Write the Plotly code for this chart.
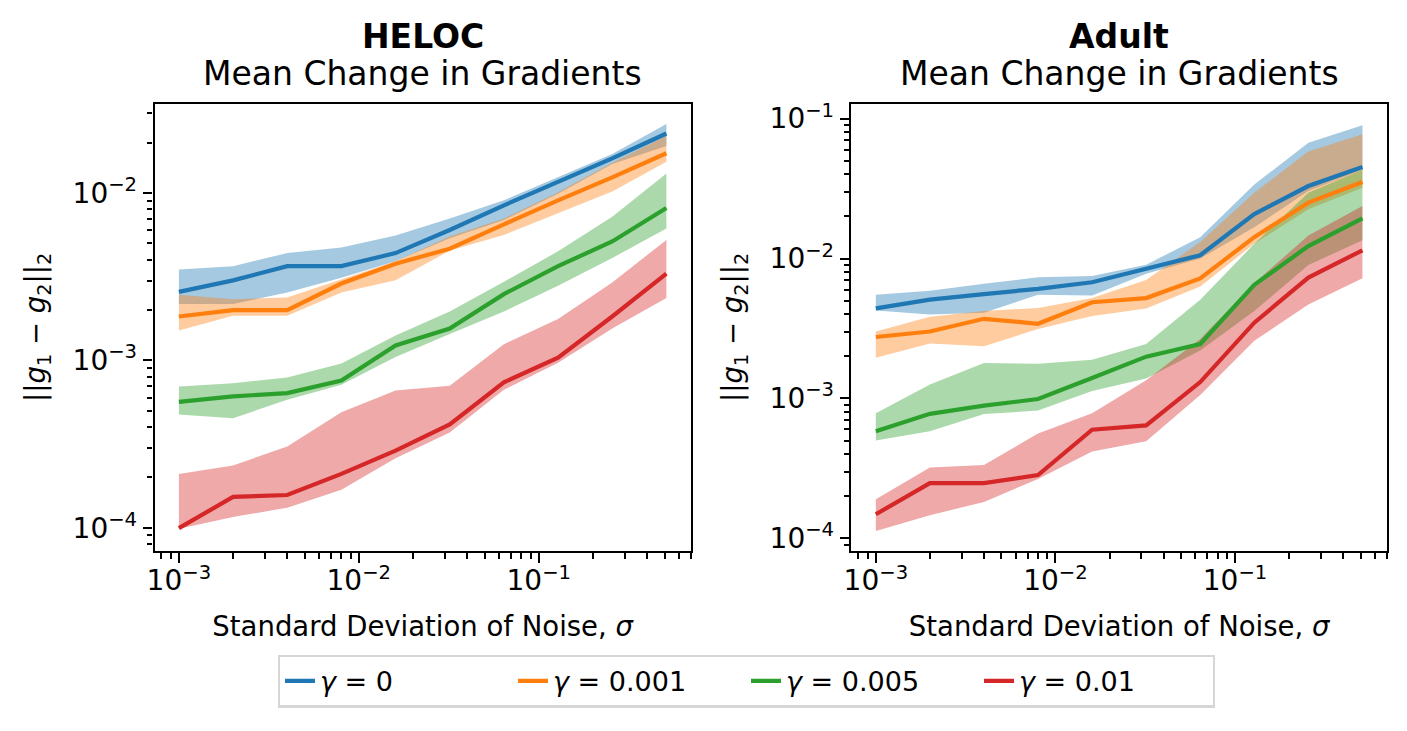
import plotly.graph_objects as go
from plotly.subplots import make_subplots

sigma = [0.001, 0.002, 0.004, 0.008, 0.016, 0.032, 0.064, 0.128, 0.256, 0.512]
gammas = ['0', '0.001', '0.005', '0.01']

# HELOC
heloc_mean = [
    [0.00257, 0.00301, 0.00366, 0.00366, 0.00438, 0.00602, 0.00845, 0.0117, 0.0161, 0.0227],
    [0.00183, 0.00200, 0.00200, 0.00288, 0.00378, 0.00465, 0.00650, 0.00905, 0.0124, 0.0173],
    [0.000565, 0.000610, 0.000638, 0.000759, 0.00123, 0.00155, 0.00249, 0.00366, 0.00514, 0.00815],
    [0.0000995, 0.000153, 0.000157, 0.000210, 0.000289, 0.000415, 0.000741, 0.00104, 0.00183, 0.00330],
]
heloc_upper = [
    [0.00349, 0.00366, 0.00438, 0.00473, 0.00557, 0.00705, 0.00905, 0.0124, 0.0171, 0.0259],
    [0.00247, 0.00232, 0.00238, 0.00305, 0.00392, 0.00550, 0.00705, 0.0101, 0.0152, 0.0219],
    [0.000699, 0.000731, 0.000791, 0.000960, 0.00141, 0.00196, 0.00295, 0.00449, 0.00722, 0.0131],
    [0.000210, 0.000236, 0.000306, 0.000491, 0.000662, 0.000705, 0.00125, 0.00177, 0.00292, 0.00525],
]
heloc_lower = [
    [0.00217, 0.00217, 0.00255, 0.00312, 0.00392, 0.00537, 0.00690, 0.00991, 0.0149, 0.0191],
    [0.00151, 0.00185, 0.00185, 0.00255, 0.00301, 0.00453, 0.00562, 0.00755, 0.0102, 0.0154],
    [0.000475, 0.000451, 0.000583, 0.000715, 0.00105, 0.00144, 0.00196, 0.00279, 0.00409, 0.00615],
    [0.0000986, 0.000116, 0.000132, 0.000169, 0.000260, 0.000371, 0.000668, 0.000969, 0.00155, 0.00236],
]

# Adult
adult_mean = [
    [0.00440, 0.00508, 0.00557, 0.00608, 0.00677, 0.00850, 0.01057, 0.02078, 0.0330, 0.0451],
    [0.00275, 0.00301, 0.00371, 0.00342, 0.00487, 0.00522, 0.00722, 0.01423, 0.0251, 0.0353],
    [0.000582, 0.000776, 0.000888, 0.000990, 0.00140, 0.00199, 0.00245, 0.00649, 0.01229, 0.01937],
    [0.0001486, 0.000248, 0.000248, 0.000283, 0.000598, 0.000642, 0.00131, 0.00348, 0.00731, 0.01146],
]
adult_upper = [
    [0.00552, 0.00589, 0.00660, 0.00734, 0.00751, 0.00903, 0.01423, 0.0338, 0.0674, 0.0897],
    [0.00301, 0.00383, 0.00421, 0.00444, 0.00522, 0.00704, 0.01311, 0.0296, 0.0582, 0.0775],
    [0.000785, 0.00126, 0.00179, 0.00177, 0.00189, 0.00245, 0.00508, 0.01276, 0.0296, 0.0432],
    [0.000190, 0.000321, 0.000335, 0.000561, 0.000785, 0.00135, 0.00266, 0.00667, 0.01462, 0.0238],
]
adult_lower = [
    [0.00425, 0.00399, 0.00409, 0.00552, 0.00545, 0.00780, 0.0100, 0.01674, 0.0304, 0.0432],
    [0.00195, 0.00247, 0.00236, 0.00313, 0.00388, 0.00440, 0.00631, 0.01276, 0.02254, 0.0321],
    [0.000501, 0.000582, 0.000773, 0.000819, 0.00113, 0.00139, 0.00220, 0.00421, 0.00898, 0.01349],
    [0.0001128, 0.0001463, 0.000182, 0.000266, 0.000417, 0.000495, 0.00106, 0.00258, 0.00469, 0.00722],
]

x_ticks = [1e-3, 1e-2, 1e-1]
x_labels = ['10<sup>−3</sup>', '10<sup>−2</sup>', '10<sup>−1</sup>']
heloc_yticks = [1e-4, 1e-3, 1e-2]
heloc_ylabels = ['10<sup>−4</sup>', '10<sup>−3</sup>', '10<sup>−2</sup>']
adult_yticks = [1e-4, 1e-3, 1e-2, 1e-1]
adult_ylabels = ['10<sup>−4</sup>', '10<sup>−3</sup>', '10<sup>−2</sup>', '10<sup>−1</sup>']

colors = ['#1f77b4', '#ff7f0e', '#2ca02c', '#d62728']
fills = ['rgba(31,119,180,0.4)', 'rgba(255,127,14,0.4)',
         'rgba(44,160,44,0.4)', 'rgba(214,39,40,0.4)']

FONT = 'DejaVu Sans'
W, H = 1399, 723   # page body adds an 8px margin

fig = make_subplots(rows=1, cols=2)

panels = [(heloc_mean, heloc_upper, heloc_lower), (adult_mean, adult_upper, adult_lower)]

# bands first, lines on top (like matplotlib zorder)
for col, (mean, upper, lower) in enumerate(panels, start=1):
    for i in range(len(gammas)):
        fig.add_trace(go.Scatter(
            x=sigma + sigma[::-1],
            y=upper[i] + lower[i][::-1],
            fill='toself', fillcolor=fills[i],
            line=dict(width=0), mode='lines',
            showlegend=False, hoverinfo='skip'
        ), row=1, col=col)
for col, (mean, upper, lower) in enumerate(panels, start=1):
    for i, g in enumerate(gammas):
        fig.add_trace(go.Scatter(
            x=sigma, y=mean[i], mode='lines',
            line=dict(color=colors[i], width=4.2),
            name='<i>γ</i> = ' + g,
            showlegend=(col == 1)
        ), row=1, col=col)

minor_x = [m * 10.0 ** e for e in range(-4, 1) for m in range(2, 10)]
minor_y = [m * 10.0 ** e for e in range(-5, 0) for m in range(2, 10)]

axis_common = dict(
    type='log', showgrid=False, zeroline=False,
    showline=True, linecolor='black', linewidth=2.2, mirror=True,
    ticks='outside', ticklen=9.7, tickwidth=2.2, tickcolor='black',
    tickmode='array',
    tickfont=dict(family=FONT, size=28, color='black'),
)

fig.update_xaxes(**axis_common, range=[-3.1355, -0.155],
                 tickvals=x_ticks, ticktext=x_labels, ticklabelstandoff=-6,
                 minor=dict(ticks='outside', ticklen=5.6, tickwidth=1.7,
                            tickcolor='black', tickmode='array', tickvals=minor_x),
                 title=dict(text='Standard Deviation of Noise, <i>σ</i>',
                            font=dict(family=FONT, size=27.5, color='black'),
                            standoff=20))
fig.update_yaxes(**axis_common,
                 minor=dict(ticks='outside', ticklen=5.6, tickwidth=1.7,
                            tickcolor='black', tickmode='array', tickvals=minor_y),
                 title=dict(text='||<i>g</i><sub>1</sub> − <i>g</i><sub>2</sub>||<sub>2</sub>',
                            font=dict(family=FONT, size=27.5, color='black'),
                            standoff=19))

fig.update_layout(
    xaxis=dict(domain=[139.3 / W, 678.7 / W]),
    xaxis2=dict(domain=[840.3 / W, 1378.7 / W]),
    yaxis=dict(domain=[1 - 544.7 / H, 1 - 92 / H], range=[-4.138, -1.467],
               tickvals=heloc_yticks, ticktext=heloc_ylabels),
    yaxis2=dict(domain=[1 - 544.7 / H, 1 - 92 / H], range=[-4.090, -0.894],
                tickvals=adult_yticks, ticktext=adult_ylabels),
    width=W, height=H,
    margin=dict(l=0, r=0, t=0, b=0),
    plot_bgcolor='white', paper_bgcolor='white',
    font=dict(family=FONT, size=27, color='black'),
    legend=dict(orientation='h', x=734.5 / W, xanchor='center',
                y=1 - 676.5 / H, yanchor='middle',
                bordercolor='#d6d6d6', borderwidth=2.2, bgcolor='white',
                font=dict(family=FONT, size=27, color='black'),
                entrywidthmode='pixels', entrywidth=188),
)

titles = [('HELOC', 409 / W), ('Adult', 1109.5 / W)]
for name, xc in titles:
    fig.add_annotation(text='<b>' + name + '</b>', x=xc, y=1 - 24 / H,
                       xref='paper', yref='paper', showarrow=False,
                       xanchor='center', yanchor='middle',
                       font=dict(family=FONT, size=33, color='black'))
    fig.add_annotation(text='Mean Change in Gradients', x=xc, y=1 - 61 / H,
                       xref='paper', yref='paper', showarrow=False,
                       xanchor='center', yanchor='middle',
                       font=dict(family=FONT, size=33, color='black'))

fig.write_html('out.html')
